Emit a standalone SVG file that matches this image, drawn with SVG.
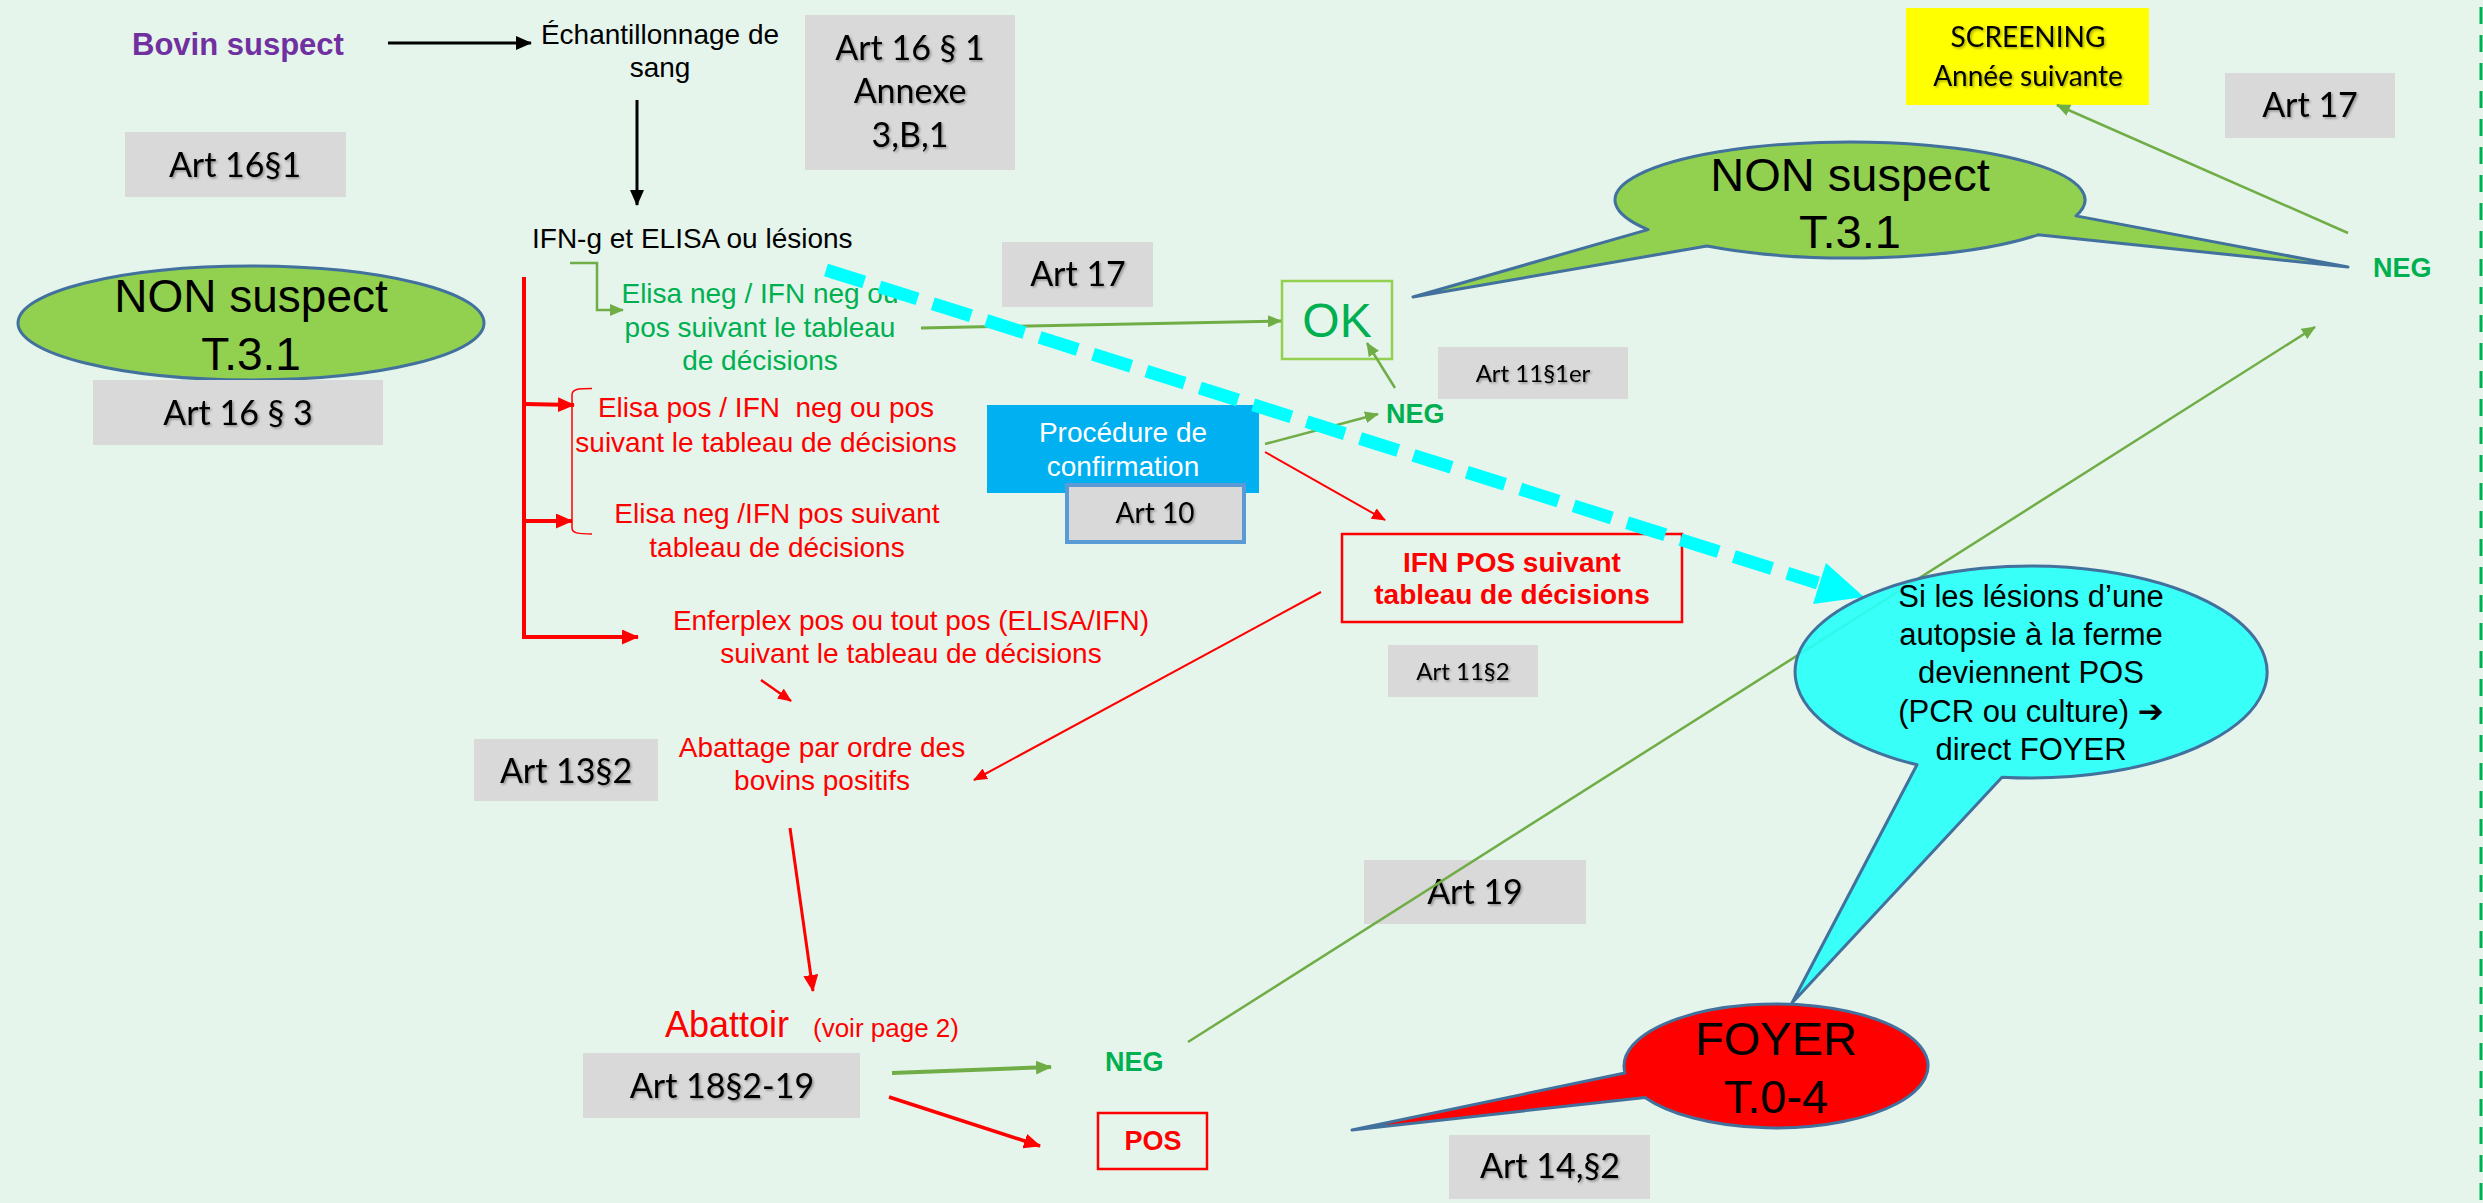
<svg xmlns="http://www.w3.org/2000/svg" width="2483" height="1203" viewBox="0 0 2483 1203">
<defs>
<style>
.ar{font-family:"Liberation Sans",Arial,"DejaVu Sans",sans-serif}
.t28{font-size:28px}
.cal{font-family:Lato,"Open Sans",sans-serif;fill:#000;filter:url(#sh)}
.box{fill:#D9D9D9}
.b{font-weight:bold}
.red{fill:#FF0000}
.grn{fill:#00B050}
.blk{fill:#000}
.callout{stroke:#41719C;stroke-width:3}
.lg{stroke:#70AD47;fill:none}
.lr{stroke:#FF0000;fill:none}
</style>
<filter id="sh" x="-10%" y="-30%" width="130%" height="170%">
<feDropShadow dx="1.5" dy="1.5" stdDeviation="1" flood-color="#000" flood-opacity="0.35"/>
</filter>
<marker id="mK" markerUnits="userSpaceOnUse" markerWidth="16" markerHeight="14" refX="15" refY="7" orient="auto"><path d="M0,0 L16,7 L0,14 z" fill="#000"/></marker>
<marker id="mRt" markerUnits="userSpaceOnUse" markerWidth="17" markerHeight="15" refX="16" refY="7.5" orient="auto"><path d="M0,0 L17,7.5 L0,15 z" fill="#FF0000"/></marker>
<marker id="mR" markerUnits="userSpaceOnUse" markerWidth="14" markerHeight="12" refX="13" refY="6" orient="auto"><path d="M0,0 L14,6 L0,12 z" fill="#FF0000"/></marker>
<marker id="mG" markerUnits="userSpaceOnUse" markerWidth="14" markerHeight="12" refX="13" refY="6" orient="auto"><path d="M0,0 L14,6 L0,12 z" fill="#70AD47"/></marker>
<marker id="mGt" markerUnits="userSpaceOnUse" markerWidth="16" markerHeight="14" refX="15" refY="7" orient="auto"><path d="M0,0 L16,7 L0,14 z" fill="#70AD47"/></marker>
</defs>

<rect x="0" y="0" width="2483" height="1203" fill="#E5F5EC"/>
<line x1="2481" y1="7" x2="2481" y2="1203" stroke="#00B050" stroke-width="3" stroke-dasharray="17 11"/>

<g id="bovin-suspect"><text x="132" y="55" class="ar b" font-size="31" fill="#7030A0">Bovin suspect</text></g>
<g id="echantillonnage"><text class="ar t28 blk" text-anchor="middle"><tspan x="660" y="44">Échantillonnage de</tspan><tspan x="660" y="77">sang</tspan></text></g>
<g id="art16-1-annexe"><rect class="box" x="805" y="15" width="210" height="155"/><text class="cal" font-size="34" text-anchor="middle"><tspan x="910" y="60">Art 16 § 1</tspan><tspan x="910" y="103">Annexe</tspan><tspan x="910" y="147">3,B,1</tspan></text></g>
<g id="art16-1"><rect class="box" x="125" y="132" width="221" height="65"/><text class="cal" font-size="34" text-anchor="middle" x="235" y="177">Art 16§1</text></g>
<g id="ifn-elisa"><text x="532" y="248" class="ar t28 blk">IFN-g et ELISA ou lésions</text></g>
<g id="non-suspect-left"><ellipse cx="251" cy="323" rx="233" ry="57" fill="#92D050" class="callout"/><text class="ar blk" font-size="46" text-anchor="middle"><tspan x="251" y="312">NON suspect</tspan><tspan x="251" y="370">T.3.1</tspan></text></g>
<g id="art16-3"><rect class="box" x="93" y="380" width="290" height="65"/><text class="cal" font-size="34" text-anchor="middle" x="238" y="425">Art 16 § 3</text></g>
<g id="elisa-neg-ifn-neg"><text class="ar t28 grn" text-anchor="middle"><tspan x="760" y="303">Elisa neg / IFN neg ou</tspan><tspan x="760" y="337">pos suivant le tableau</tspan><tspan x="760" y="370">de décisions</tspan></text></g>
<g id="elisa-pos"><text class="ar t28 red" text-anchor="middle" style="white-space:pre"><tspan x="766" y="417">Elisa pos / IFN  neg ou pos</tspan><tspan x="766" y="452">suivant le tableau de décisions</tspan></text></g>
<g id="elisa-neg-ifn-pos"><text class="ar t28 red" text-anchor="middle"><tspan x="777" y="523">Elisa neg /IFN pos suivant</tspan><tspan x="777" y="557">tableau de décisions</tspan></text></g>
<g id="enferplex"><text class="ar t28 red" text-anchor="middle"><tspan x="911" y="630">Enferplex pos ou tout pos (ELISA/IFN)</tspan><tspan x="911" y="663">suivant le tableau de décisions</tspan></text></g>
<g id="abattage"><text class="ar t28 red" text-anchor="middle"><tspan x="822" y="757">Abattage par ordre des</tspan><tspan x="822" y="790">bovins positifs</tspan></text></g>
<g id="art13-2"><rect class="box" x="474" y="739" width="184" height="62"/><text class="cal" font-size="34" text-anchor="middle" x="566" y="783">Art 13§2</text></g>
<g id="abattoir"><text class="ar red" y="1037"><tspan x="665" font-size="36">Abattoir</tspan><tspan x="813" font-size="26">(voir page 2)</tspan></text></g>
<g id="art18-2-19"><rect class="box" x="583" y="1053" width="277" height="65"/><text class="cal" font-size="34" text-anchor="middle" x="722" y="1098">Art 18§2-19</text></g>
<g id="neg-abattoir"><text x="1105" y="1071" class="ar b grn" font-size="27">NEG</text></g>
<g id="pos-abattoir"><rect x="1098" y="1113" width="109" height="56" fill="none" stroke="#FF0000" stroke-width="2.5"/><text x="1153" y="1150" text-anchor="middle" class="ar b red" font-size="27">POS</text></g>
<g id="art17-mid"><rect class="box" x="1002" y="242" width="151" height="65"/><text class="cal" font-size="34" text-anchor="middle" x="1078" y="286">Art 17</text></g>
<g id="ok"><rect x="1282" y="281" width="110" height="78" fill="none" stroke="#92D050" stroke-width="2.5"/><text x="1337" y="337" text-anchor="middle" class="ar grn" font-size="48">OK</text></g>
<g id="art11-1er"><rect class="box" x="1438" y="347" width="190" height="52"/><text class="cal" font-size="24" text-anchor="middle" x="1533" y="382">Art 11§1er</text></g>
<g id="procedure"><rect x="987" y="405" width="272" height="88" fill="#00B0F0"/><text class="ar t28" fill="#FFFFFF" text-anchor="middle"><tspan x="1123" y="442">Procédure de</tspan><tspan x="1123" y="476">confirmation</tspan></text></g>
<g id="art10"><rect class="box" x="1067" y="485" width="177" height="57" stroke="#5B9BD5" stroke-width="4"/><text class="cal" font-size="28" text-anchor="middle" x="1155" y="523">Art 10</text></g>
<g id="neg-confirmation"><text x="1386" y="423" class="ar b grn" font-size="27">NEG</text></g>
<g id="ifn-pos"><rect x="1342" y="534" width="340" height="88" fill="none" stroke="#FF0000" stroke-width="2.5"/><text class="ar b red t28" text-anchor="middle"><tspan x="1512" y="572">IFN POS suivant</tspan><tspan x="1512" y="604">tableau de décisions</tspan></text></g>
<g id="art11-2"><rect class="box" x="1388" y="645" width="150" height="52"/><text class="cal" font-size="24" text-anchor="middle" x="1463" y="680">Art 11§2</text></g>
<g id="art19"><rect class="box" x="1364" y="860" width="222" height="64"/><text class="cal" font-size="34" text-anchor="middle" x="1475" y="904">Art 19</text></g>
<g id="art14-2"><rect class="box" x="1449" y="1135" width="201" height="64"/><text class="cal" font-size="34" text-anchor="middle" x="1550" y="1178">Art 14,§2</text></g>
<g id="screening"><rect x="1906" y="8" width="243" height="97" fill="#FFFF00"/><text class="cal" font-size="28" text-anchor="middle"><tspan x="2028" y="47">SCREENING</tspan><tspan x="2028" y="86">Année suivante</tspan></text></g>
<g id="art17-right"><rect class="box" x="2225" y="73" width="170" height="65"/><text class="cal" font-size="34" text-anchor="middle" x="2310" y="117">Art 17</text></g>
<g id="non-suspect-right"><path d="M1648,229.6 L1413,297 L1707,246 A235,58 0 0 0 2038,234.8 L2348,267 L2076,215.9 A235,58 0 1 0 1648,229.6 Z" fill="#92D050" class="callout" stroke-linejoin="round"/><text class="ar blk" font-size="47" text-anchor="middle"><tspan x="1850" y="191">NON suspect</tspan><tspan x="1850" y="248">T.3.1</tspan></text></g>
<g id="neg-right"><text x="2373" y="277" class="ar b grn" font-size="27">NEG</text></g>
<g id="foyer"><path d="M1625,1073 L1352,1130 L1645,1097.4 A152,62 0 1 0 1625,1073 Z" fill="#FF0000" class="callout" stroke-linejoin="round"/><text class="ar blk" font-size="47" text-anchor="middle"><tspan x="1776" y="1055">FOYER</tspan><tspan x="1776" y="1113">T.0-4</tspan></text></g>

<g id="connectors">
<line x1="388" y1="43" x2="531" y2="43" stroke="#000" stroke-width="3" marker-end="url(#mK)"/>
<line x1="637" y1="100" x2="637" y2="205" stroke="#000" stroke-width="3" marker-end="url(#mK)"/>
<path d="M570,263 H597 V310 H623" class="lg" stroke-width="2.5" marker-end="url(#mG)"/>
<path d="M524,277 V637 H638" class="lr" stroke-width="4" marker-end="url(#mRt)"/>
<line x1="524" y1="404" x2="574" y2="405" class="lr" stroke-width="4" marker-end="url(#mRt)"/>
<line x1="524" y1="521" x2="572" y2="521" class="lr" stroke-width="4" marker-end="url(#mRt)"/>
<path d="M592,388.5 C578,388.5 572,389 572,395 V528 C572,533 578,534 592,534" class="lr" stroke-width="1.5"/>
<line x1="761" y1="680" x2="791" y2="701" class="lr" stroke-width="2.5" marker-end="url(#mR)"/>
<line x1="921" y1="328" x2="1281" y2="321" class="lg" stroke-width="3" marker-end="url(#mG)"/>
<line x1="1265" y1="444" x2="1378" y2="414" class="lg" stroke-width="2.5" marker-end="url(#mG)"/>
<line x1="1395" y1="388" x2="1367" y2="343" class="lg" stroke-width="2.5" marker-end="url(#mG)"/>
<line x1="1265" y1="452" x2="1385" y2="520" class="lr" stroke-width="2" marker-end="url(#mR)"/>
<line x1="1321" y1="592" x2="974" y2="780" class="lr" stroke-width="2" marker-end="url(#mR)"/>
<line x1="790" y1="828" x2="813" y2="991" class="lr" stroke-width="3" marker-end="url(#mRt)"/>
<line x1="892" y1="1073" x2="1051" y2="1067" class="lg" stroke-width="4" marker-end="url(#mGt)"/>
<line x1="889" y1="1097" x2="1040" y2="1146" class="lr" stroke-width="3.5" marker-end="url(#mRt)"/>
<line x1="1188" y1="1042" x2="2315" y2="327" class="lg" stroke-width="2.5" marker-end="url(#mG)"/>
<line x1="2348" y1="233" x2="2057" y2="105" class="lg" stroke-width="2.5" marker-end="url(#mG)"/>
<line x1="826" y1="270" x2="1818" y2="583" stroke="#00FFFF" stroke-width="13" stroke-dasharray="40 16"/>
<polygon points="1864,597 1813,604 1826,563" fill="#00FFFF"/>
</g>

<g id="lesions-callout"><path d="M1917,764.8 L1792,1003 L2002,777.2 A236,106 0 1 0 1917,764.8 Z" fill="#29FFF9" fill-opacity="0.92" class="callout" stroke-linejoin="round"/><text class="ar blk" font-size="31" text-anchor="middle"><tspan x="2031" y="607">Si les lésions d’une</tspan><tspan x="2031" y="645">autopsie à la ferme</tspan><tspan x="2031" y="683">deviennent POS</tspan><tspan x="2031" y="722">(PCR ou culture) ➔</tspan><tspan x="2031" y="760">direct FOYER</tspan></text></g>
</svg>
